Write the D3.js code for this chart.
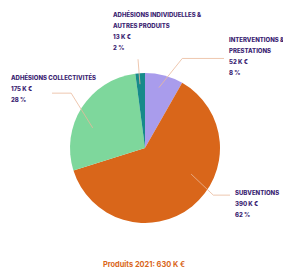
<!DOCTYPE html>
<html>
<head>
<meta charset="utf-8">
<style>
  body { margin: 0; background: #fff; }
  svg { display: block; }
  .lbl { font-family: Inter, "DejaVu Sans", sans-serif; font-weight: 800; fill: #3b2472; }
  .title { font-family: Inter, "DejaVu Sans", sans-serif; font-weight: 700; fill: #d9661a; }
</style>
</head>
<body>
<script src="https://d3js.org/d3.v7.min.js"></script>
<script>
// data
var categories = ["INTERVENTIONS & PRESTATIONS", "SUBVENTIONS", "ADHÉSIONS COLLECTIVITÉS", "ADHÉSIONS INDIVIDUELLES & AUTRES PRODUITS"];
var values = [52, 390, 175, 13];          // K €
var percents = [8, 62, 28, 2];
var colors = ["#a99cec", "#d9661a", "#7ed79c", "#168a8a"];
var title = "Produits 2021: 630 K €";

var W = 283, H = 269;
var cx = 145, cy = 148, R = 75;

// label layout: text lines, text position, leader anchor (angle deg, radius) and elbow
var layout = [
  {lines: ["INTERVENTIONS &", "PRESTATIONS"], x: 229, y: 42, a0: 13, r0: 62, a1: 22.6, r1: 97, end: 224},
  {lines: ["SUBVENTIONS"], x: 235, y: 195, a0: 119.5, r0: 53, a1: 124.6, r1: 83, end: 230},
  {lines: ["ADHÉSIONS COLLECTIVITÉS"], x: 11, y: 80, a0: 291, r0: 56, a1: 306.6, r1: 92, end: 52},
  {lines: ["ADHÉSIONS INDIVIDUELLES &", "AUTRES PRODUITS"], x: 113, y: 17, a0: 355.5, r0: 64, a1: 355.5, r1: 89, end: null}
];

var svg = d3.select("body").append("svg").attr("width", W).attr("height", H);
var g = svg.append("g").attr("transform", "translate(" + cx + "," + cy + ")");

var pie = d3.pie().sort(null).value(function(d) { return d; });
var arc = d3.arc().innerRadius(0).outerRadius(R);
var arcs = pie(values);

g.selectAll("path.slice")
  .data(arcs)
  .enter().append("path")
  .attr("class", "slice")
  .attr("d", arc)
  .attr("fill", function(d, i) { return colors[i]; });

function polar(a, r) {
  var t = a * Math.PI / 180;
  return [cx + r * Math.sin(t), cy - r * Math.cos(t)];
}

// leader lines
layout.forEach(function(L, i) {
  var p0 = polar(L.a0, L.r0), p1 = polar(L.a1, L.r1);
  var pts = [p0, p1];
  if (L.end !== null) pts.push([L.end, p1[1]]);
  svg.append("path")
    .attr("d", d3.line()(pts))
    .attr("fill", "none")
    .attr("stroke", "#eab99a")
    .attr("stroke-width", 0.8);
});

// labels
layout.forEach(function(L, i) {
  var lines = L.lines.concat([values[i] + " K €", percents[i] + " %"]);
  var t = svg.append("text").attr("class", "lbl").attr("font-size", 6);
  lines.forEach(function(s, k) {
    t.append("tspan").attr("x", L.x).attr("y", L.y + k * 11).text(s);
  });
});

svg.append("text")
  .attr("class", "title")
  .attr("x", 144).attr("y", 267)
  .attr("text-anchor", "middle")
  .attr("font-size", 7.4)
  .text(title);
</script>
</body>
</html>
